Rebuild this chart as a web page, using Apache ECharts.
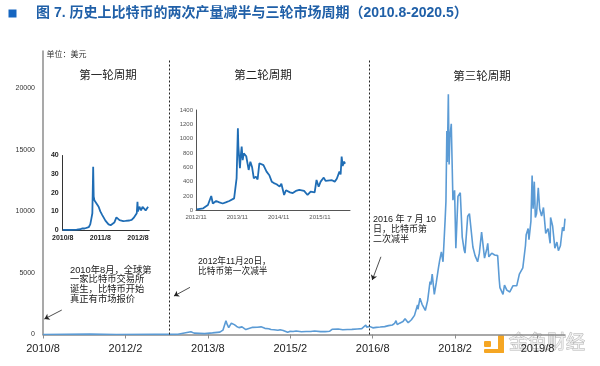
<!DOCTYPE html>
<html><head><meta charset="utf-8">
<script src="https://cdn.jsdelivr.net/npm/echarts@6/dist/echarts.min.js"></script>
<style>html,body{margin:0;padding:0;background:#fff}#c{width:600px;height:366px}</style>
</head><body><div id="c"></div>
<script>
const FONT = "'Liberation Sans','Noto Sans CJK SC',sans-serif";
const titleText = '图 7. 历史上比特币的两次产量减半与三轮市场周期（2010.8-2020.5）';
const unitText = '单位：美元';
const cycleNames = ['第一轮周期', '第二轮周期', '第三轮周期'];
const note1 = ['2010年8月，全球第', '一家比特币交易所', '诞生，比特币开始', '真正有市场报价'];
const note2 = ['2012年11月20日，', '比特币第一次减半'];
const note3 = ['2016 年 7 月 10', '日，比特币第', '二次减半'];

const mainBase = '2010-08-01';
const mainEnd = '2020-02-01';
const mainXLabels = ['2010/8', '2012/2', '2013/8', '2015/2', '2016/8', '2018/2', '2019/8'];
const mainYLabels = [0, 5000, 10000, 15000, 20000];
const halvingDates = ['2012-11-20', '2016-07-10'];

const mainDates = ['2010-08-01','2011-06-08','2011-12-01','2012-08-15','2012-11-20','2013-01-15','2013-04-10','2013-05-01','2013-07-10','2013-09-01','2013-10-20','2013-11-10','2013-11-30','2013-12-08','2013-12-18','2014-01-05','2014-01-25','2014-02-10','2014-02-25','2014-03-15','2014-04-10','2014-04-25','2014-05-25','2014-06-05','2014-06-25','2014-07-20','2014-08-15','2014-09-10','2014-09-25','2014-10-15','2014-11-10','2014-11-25','2014-12-15','2015-01-14','2015-01-28','2015-02-20','2015-03-10','2015-04-15','2015-05-15','2015-06-15','2015-07-10','2015-08-20','2015-09-20','2015-10-20','2015-11-05','2015-11-12','2015-12-15','2016-01-15','2016-02-15','2016-03-15','2016-04-20','2016-05-20','2016-06-16','2016-06-22','2016-07-10','2016-08-02','2016-08-25','2016-09-20','2016-10-20','2016-11-15','2016-12-10','2016-12-25','2017-01-04','2017-01-12','2017-01-28','2017-02-20','2017-03-03','2017-03-24','2017-04-15','2017-05-05','2017-05-25','2017-05-28','2017-06-11','2017-06-25','2017-07-16','2017-08-01','2017-08-17','2017-08-23','2017-09-01','2017-09-15','2017-09-28','2017-10-12','2017-10-20','2017-11-01','2017-11-12','2017-11-26','2017-12-01','2017-12-07','2017-12-10','2017-12-17','2017-12-22','2017-12-27','2018-01-06','2018-01-17','2018-01-28','2018-02-06','2018-02-20','2018-03-05','2018-03-18','2018-03-30','2018-04-06','2018-04-24','2018-05-05','2018-05-28','2018-06-12','2018-06-29','2018-07-10','2018-07-25','2018-08-14','2018-08-30','2018-09-05','2018-09-12','2018-10-01','2018-10-20','2018-11-10','2018-11-20','2018-11-25','2018-12-15','2018-12-25','2019-01-10','2019-01-30','2019-02-20','2019-03-15','2019-04-02','2019-04-25','2019-05-12','2019-05-17','2019-05-30','2019-06-05','2019-06-18','2019-06-26','2019-07-02','2019-07-10','2019-07-17','2019-07-25','2019-08-06','2019-08-15','2019-08-28','2019-09-10','2019-09-25','2019-10-10','2019-10-24','2019-10-27','2019-11-10','2019-11-25','2019-12-08','2019-12-18','2020-01-01','2020-01-15','2020-01-24','2020-02-01'];
const mainPrices = [0.07,30,3,12,12,15,230,110,70,130,190,350,1120,820,560,920,800,650,560,620,400,470,580,650,590,620,500,470,400,380,340,380,330,180,250,240,290,225,240,245,290,230,235,270,420,330,450,380,410,415,450,480,770,600,660,540,580,605,640,720,770,900,1120,800,920,1050,1280,950,1200,1550,2400,2050,2950,2450,1950,2750,4300,4050,4900,3250,4200,5400,6000,6700,5900,9300,10800,16500,14000,19500,13800,16000,17100,10900,11700,7000,11200,11500,7900,6900,6600,9600,9800,7100,6400,5900,6600,8300,6200,7000,7400,6300,6600,6450,6400,4500,3800,3250,4000,3600,3450,3950,3950,4900,5400,7200,8100,8600,7700,9200,12900,10200,12400,9500,9800,11900,10200,9600,10300,8200,8600,7400,9500,8800,7000,7500,6800,7200,8700,8400,9400];

const inset1Base = '2010-08-01';
const inset1End = '2012-11-20';
const inset1XLabels = ['2010/8', '2011/8', '2012/8'];
const inset1YLabels = [0, 10, 20, 30, 40];
const inset1Dates = ['2010-08-01','2010-10-15','2010-12-15','2011-01-20','2011-02-10','2011-03-01','2011-03-20','2011-04-10','2011-04-25','2011-05-05','2011-05-15','2011-05-23','2011-05-28','2011-06-04','2011-06-15','2011-06-28','2011-07-15','2011-08-01','2011-08-20','2011-09-05','2011-09-20','2011-10-05','2011-10-20','2011-11-10','2011-11-28','2011-12-15','2012-01-05','2012-01-20','2012-02-05','2012-02-20','2012-03-10','2012-04-01','2012-04-20','2012-05-10','2012-06-01','2012-06-20','2012-07-05','2012-07-20','2012-07-27','2012-08-01','2012-08-15','2012-09-01','2012-09-15','2012-10-01','2012-10-15','2012-10-28','2012-11-08'];
const inset1Prices = [0.07,0.1,0.25,0.4,0.9,0.8,0.9,1.5,3,6,9,34,18,16,15.5,14,12.5,10,8,6.5,5,4,3,2.6,3,4,6.8,6,5.3,4.6,4.8,4.9,5,5.1,5.4,6.5,7.5,9,15.2,10,12.5,10.5,12.5,11.5,10.5,11.2,12.5];

const inset2Base = '2012-11-01';
const inset2End = '2016-07-23';
const inset2XLabels = ['2012/11', '2013/11', '2014/11', '2015/11'];
const inset2YLabels = [0, 200, 400, 600, 800, 1000, 1200, 1400];
const inset2Dates = ['2012-11-07','2013-01-04','2013-02-15','2013-03-14','2013-03-28','2013-04-27','2013-05-25','2013-06-24','2013-07-20','2013-08-21','2013-10-03','2013-10-25','2013-11-06','2013-11-10','2013-11-15','2013-11-24','2013-12-01','2013-12-09','2013-12-18','2013-12-28','2014-01-08','2014-01-19','2014-02-10','2014-02-25','2014-03-10','2014-03-25','2014-04-13','2014-04-28','2014-05-13','2014-05-28','2014-06-19','2014-07-16','2014-08-10','2014-09-01','2014-09-20','2014-10-13','2014-11-10','2014-11-25','2014-12-19','2015-01-05','2015-01-22','2015-02-10','2015-03-04','2015-04-01','2015-05-01','2015-06-13','2015-07-13','2015-08-10','2015-08-25','2015-09-15','2015-10-01','2015-10-20','2015-11-07','2015-12-04','2015-12-20','2016-01-04','2016-02-16','2016-03-10','2016-03-28','2016-04-21','2016-05-01','2016-05-10','2016-05-19','2016-06-01','2016-06-10'];
const inset2Prices = [12,28,74,200,95,130,110,95,110,130,167,447,1145,900,912,587,760,888,700,796,820,754,563,679,600,447,470,430,656,640,630,540,490,400,380,363,330,370,214,280,260,250,240,270,285,270,214,260,240,250,423,330,400,457,410,390,420,400,440,540,500,750,620,679,650];

function monthsSince(dateStr, baseStr) {
  const d = dateStr.split(/[-\/]/).map(Number);
  const b = baseStr.split(/[-\/]/).map(Number);
  return (d[0] - b[0]) * 12 + (d[1] - b[1]) + ((d[2] || 1) - (b[2] || 1)) / 30.5;
}
function labelPos(labels, base) {
  return labels.map(l => monthsSince(l + '/1', base));
}
function pairs(dates, prices, base) {
  return dates.map((d, i) => [monthsSince(d, base), prices[i]]);
}
function labelFmt(labels, base) {
  const pos = labelPos(labels, base);
  return v => { const i = pos.findIndex(p => Math.abs(p - v) < 0.01); return i >= 0 ? labels[i] : ''; };
}
const plain = v => String(v);

const mainX = labelPos(mainXLabels, mainBase);
const halvings = halvingDates.map(d => monthsSince(d, mainBase));

const chart = echarts.init(document.getElementById('c'), null, {renderer: 'canvas'});

const txt = (x, y, lines, size, lh) => ({
  type: 'text', left: x, top: y, z: 50,
  style: {text: lines.join('\n'), font: size + 'px ' + FONT, fill: '#1a1a1a', lineHeight: lh}
});

chart.setOption({
  animation: false,
  backgroundColor: '#fff',
  textStyle: {fontFamily: FONT},
  grid: [
    {left: 43, right: 35, top: 51, bottom: 31.5},
    {left: 62.7, top: 155.5, width: 86.6, height: 74.5},
    {left: 196, top: 110, width: 154, height: 100.3}
  ],
  xAxis: [
    {type: 'value', gridIndex: 0, min: 0, max: monthsSince(mainEnd, mainBase),
     axisLine: {lineStyle: {color: '#8c8c8c', width: 1.5}},
     axisTick: {show: true, customValues: mainX, length: 4, lineStyle: {color: '#8c8c8c'}},
     axisLabel: {customValues: mainX, formatter: labelFmt(mainXLabels, mainBase), fontSize: 11, color: '#222', margin: 9, fontFamily: FONT},
     splitLine: {show: false}},
    {type: 'value', gridIndex: 1, min: 0, max: monthsSince(inset1End, inset1Base),
     axisLine: {lineStyle: {color: '#333', width: 1}}, axisTick: {show: false},
     axisLabel: {customValues: labelPos(inset1XLabels, inset1Base), formatter: labelFmt(inset1XLabels, inset1Base), fontSize: 7, fontWeight: 'bold', color: '#222', margin: 5, fontFamily: FONT},
     splitLine: {show: false}},
    {type: 'value', gridIndex: 2, min: 0, max: monthsSince(inset2End, inset2Base),
     axisLine: {lineStyle: {color: '#555', width: 1}}, axisTick: {show: false},
     axisLabel: {customValues: labelPos(inset2XLabels, inset2Base), formatter: labelFmt(inset2XLabels, inset2Base), fontSize: 6, color: '#555', margin: 4, fontFamily: FONT},
     splitLine: {show: false}}
  ],
  yAxis: [
    {type: 'value', gridIndex: 0, min: 0, max: 23000,
     axisLine: {show: true, lineStyle: {color: '#8c8c8c', width: 1.5}}, axisTick: {show: false},
     axisLabel: {customValues: mainYLabels, formatter: plain, fontSize: 7, color: '#333', margin: 8, fontFamily: FONT},
     splitLine: {show: false}},
    {type: 'value', gridIndex: 1, min: 0, max: 40, interval: 10,
     axisLine: {show: true, lineStyle: {color: '#333', width: 1}}, axisTick: {show: false},
     axisLabel: {customValues: inset1YLabels, formatter: plain, fontSize: 7, fontWeight: 'bold', color: '#222', margin: 4, fontFamily: FONT},
     splitLine: {show: false}},
    {type: 'value', gridIndex: 2, min: 0, max: 1400, interval: 200,
     axisLine: {show: true, lineStyle: {color: '#555', width: 1}}, axisTick: {show: false},
     axisLabel: {customValues: inset2YLabels, formatter: plain, fontSize: 6, color: '#555', margin: 3, fontFamily: FONT},
     splitLine: {show: false}}
  ],
  series: [
    {type: 'line', xAxisIndex: 0, yAxisIndex: 0, data: pairs(mainDates, mainPrices, mainBase),
     showSymbol: false, symbol: 'none', lineStyle: {color: '#5b9bd5', width: 1.6}, z: 3,
     markLine: {silent: true, symbol: ['none', 'none'], label: {show: false},
       data: [
         [{coord: [halvings[0], 0], lineStyle: {type: [2, 2], color: '#222', width: 1}}, {coord: [halvings[0], 22300]}],
         [{coord: [halvings[1], 0], lineStyle: {type: [2, 2], color: '#222', width: 1}}, {coord: [halvings[1], 22300]}],
         [{coord: [4.1, 1985], symbol: 'none', lineStyle: {type: 'solid', color: '#222', width: 0.8}}, {coord: [0.3, 1256], symbol: 'arrow', symbolSize: 5}],
         [{coord: [32.1, 3825], symbol: 'none', lineStyle: {type: 'solid', color: '#222', width: 0.8}}, {coord: [28.6, 3120], symbol: 'arrow', symbolSize: 5}],
         [{coord: [73.8, 6305], symbol: 'none', lineStyle: {type: 'solid', color: '#222', width: 0.8}}, {coord: [71.9, 4417], symbol: 'arrow', symbolSize: 5}]
       ]}},
    {type: 'line', xAxisIndex: 1, yAxisIndex: 1, data: pairs(inset1Dates, inset1Prices, inset1Base),
     showSymbol: false, symbol: 'none', lineStyle: {color: '#1f6db5', width: 1.8}},
    {type: 'line', xAxisIndex: 2, yAxisIndex: 2, data: pairs(inset2Dates, inset2Prices, inset2Base),
     showSymbol: false, symbol: 'none', lineStyle: {color: '#1f6db5', width: 1.8}}
  ],
  graphic: [
    {type: 'rect', shape: {x: 8.5, y: 9.5, width: 8, height: 8}, style: {fill: '#1565c0'}},
    {type: 'text', left: 36, top: 6, style: {text: titleText, font: 'bold 14px ' + FONT, fill: '#2060a8'}},
    {type: 'text', left: 46.5, top: 51, style: {text: unitText, font: '8px ' + FONT, fill: '#333'}},
    {type: 'text', x: 108, y: 76, style: {text: cycleNames[0], font: '11.5px ' + FONT, fill: '#222', align: 'center', verticalAlign: 'middle'}},
    {type: 'text', x: 263, y: 76, style: {text: cycleNames[1], font: '11.5px ' + FONT, fill: '#222', align: 'center', verticalAlign: 'middle'}},
    {type: 'text', x: 482, y: 77, style: {text: cycleNames[2], font: '11.5px ' + FONT, fill: '#222', align: 'center', verticalAlign: 'middle'}},
    txt(70, 265.5, note1, 9.3, 9.6),
    txt(198, 257, note2, 8.7, 10),
    txt(373, 215, note3, 9, 10),
    {type: 'group', z: 60, children: [
      {type: 'rect', shape: {x: 484, y: 341, width: 7, height: 6, r: 1}, style: {fill: '#f5a623'}},
      {type: 'rect', shape: {x: 498, y: 335, width: 6, height: 18, r: 1}, style: {fill: '#f5a623'}},
      {type: 'rect', shape: {x: 484, y: 349, width: 20, height: 4, r: 1}, style: {fill: '#f5a623'}},
      {type: 'text', x: 509, y: 344, style: {text: '金色财经', font: '19px ' + FONT, fill: '#eeeeee', stroke: '#b5b5b5', lineWidth: 1, verticalAlign: 'middle'}}
    ]}
  ]
});
</script></body></html>
